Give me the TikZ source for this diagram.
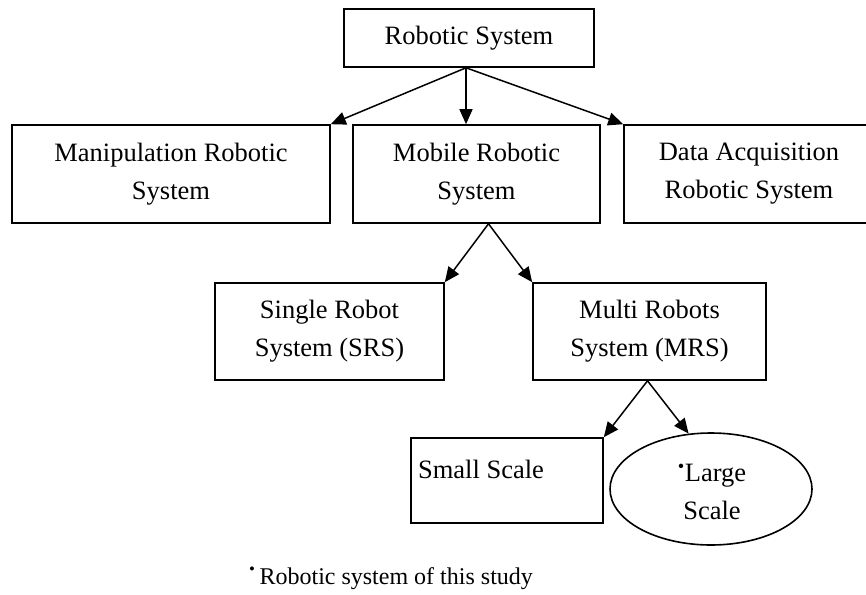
\documentclass[tikz,border=0pt]{standalone}
\usepackage{fontspec}
\setmainfont{Liberation Serif}
\usetikzlibrary{shapes.geometric,arrows.meta}
\tikzset{
  box/.style={draw=black, line width=1.6pt, rectangle, inner sep=0pt, align=center,
    font=\fontsize{26.5}{38}\selectfont},
  txt/.style={inner sep=0pt, align=center, font=\fontsize{26.5}{38}\selectfont},
  arr/.style={draw=black, line width=1.5pt, -{Triangle[length=15pt,width=13pt]}}
}
\begin{document}
\begin{tikzpicture}[x=1pt,y=-1pt]
\useasboundingbox (0,0) rectangle (866,594);
\fill[white] (0,0) rectangle (866,594);
% level 0
\node[box, minimum width=250, minimum height=58] (top) at (469,38) {Robotic System};
% level 1
\node[box, minimum width=318, minimum height=98] (manip) at (171,174) {Manipulation Robotic\\System};
\node[box, minimum width=247, minimum height=98] (mob) at (476.5,174) {Mobile Robotic\\System};
\node[box, minimum width=250, minimum height=98] (data) at (749,174) {Data Acquisition\\Robotic System};
% level 2
\node[box, minimum width=229, minimum height=97] (srs) at (329.5,331.5) {Single Robot\\System (SRS)};
\node[box, minimum width=233, minimum height=97] (mrs) at (649.5,331.5) {Multi Robots\\System (MRS)};
% level 3
\node[box, minimum width=192, minimum height=85] (small) at (507,480.5) {};
\node[txt] (smalltxt) at (481,469) {Small Scale};
\node[draw=black, line width=1.6pt, ellipse, inner sep=0pt, minimum width=202, minimum height=112] (large) at (711,489) {};
\node[txt] (largetxt) at (712,492) {\textsuperscript{\textbullet}Large\\Scale};
% footnote
\node[txt, anchor=base west, font=\fontsize{24}{30}\selectfont] (note) at (249,584) {\textsuperscript{\textbullet}\,Robotic system of this study};
% connectors
\coordinate (topout) at ([xshift=-3pt]top.south);
\coordinate (mobout) at ([xshift=12pt]mob.south);
\coordinate (mrsout) at ([xshift=-2pt]mrs.south);
\draw[arr] (topout) -- (manip.north east);
\draw[arr] (topout) -- (topout |- mob.north);
\draw[arr] (topout) -- (data.north west);
\draw[arr] (mobout) -- (srs.north east);
\draw[arr] (mobout) -- (mrs.north west);
\draw[arr] (mrsout) -- (small.north east);
\draw[arr] (mrsout) -- (large.112);
\end{tikzpicture}
\end{document}
